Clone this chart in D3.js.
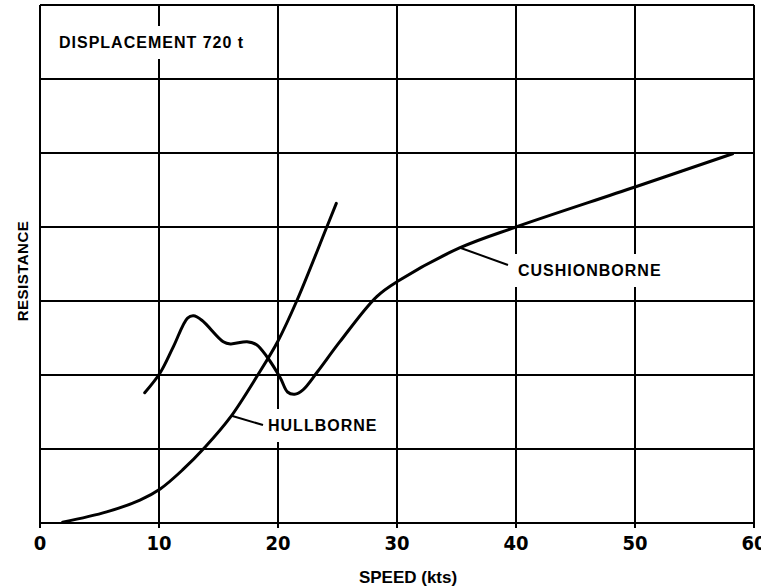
<!DOCTYPE html>
<html><head><meta charset="utf-8">
<script src="https://cdn.jsdelivr.net/npm/d3@7"></script>
<style>body{margin:0;background:#fff}svg{display:block}</style>
</head><body>
<script>
const xTicks = [0,10,20,30,40,50,60];
const yGrid = [0,1,2,3,4,5,6,7];
const hullSpeed = [1.9,5.6,8.4,10.1,12.0,13.9,16.0,18.3,20.0,21.6,24.1,24.9];
const hullRes   = [0.01,0.15,0.31,0.46,0.72,1.03,1.43,2.0,2.46,3.01,4.0,4.32];
const cushSpeed = [8.8,10.1,11.2,12.4,12.9,13.6,15.4,16.0,17.4,18.2,19.1,20.2,20.8,21.4,22.1,23.3,25.2,28.3,30.2,35.3,40,50,58.2];
const cushRes   = [1.76,2.03,2.38,2.77,2.80,2.74,2.45,2.42,2.45,2.41,2.24,1.96,1.77,1.74,1.80,2.04,2.45,3.06,3.28,3.72,4.0,4.54,4.99];

const W=761,H=588, m={top:5,right:7,bottom:65,left:40};
const svg=d3.select("body").append("svg").attr("width",W).attr("height",H);
const x=d3.scaleLinear().domain([0,60]).range([m.left,W-m.right]);
const y=d3.scaleLinear().domain([0,7]).range([H-m.bottom,m.top]);
const g=svg.append("g");
const FONT="'Liberation Sans',Arial,sans-serif";

// grid
g.selectAll(".v").data(xTicks).enter().append("line")
 .attr("x1",d=>x(d)).attr("x2",d=>x(d)).attr("y1",y(7)).attr("y2",y(0)+5)
 .attr("stroke","#000").attr("stroke-width",2);
g.selectAll(".h").data(yGrid).enter().append("line")
 .attr("x1",x(0)).attr("x2",x(60)).attr("y1",d=>y(d)).attr("y2",d=>y(d))
 .attr("stroke","#000").attr("stroke-width",2);

// tick labels
svg.selectAll(".tl").data(xTicks).enter().append("text")
 .attr("x",d=>x(d)).attr("y",y(0)+27).attr("text-anchor","middle")
 .attr("font-family","'Liberation Sans Narrow','DejaVu Sans Condensed',sans-serif")
 .attr("font-weight","bold")
 .attr("font-size",20).attr("fill","#000").text(d=>d);

function label(txt,xx,yy){
  const t=svg.append("text").attr("x",xx).attr("y",yy)
   .attr("font-family",FONT).attr("font-weight","bold").attr("letter-spacing",1)
   .attr("font-size",16).attr("fill","#000").text(txt);
  const b=t.node().getBBox();
  svg.insert("rect",()=>t.node()).attr("x",b.x-4).attr("y",b.y-8).attr("width",b.width+6).attr("height",b.height+16).attr("fill","#fff");
  return t;
}
label("DISPLACEMENT 720 t",59,48);

const line=d3.line().x(d=>x(d[0])).y(d=>y(d[1])).curve(d3.curveCatmullRom.alpha(0.5));
svg.append("path").datum(hullSpeed.map((s,i)=>[s,hullRes[i]])).attr("d",line)
 .attr("fill","none").attr("stroke","#000").attr("stroke-width",3).attr("stroke-linecap","round");
svg.append("path").datum(cushSpeed.map((s,i)=>[s,cushRes[i]])).attr("d",line)
 .attr("fill","none").attr("stroke","#000").attr("stroke-width",3).attr("stroke-linecap","round");

label("HULLBORNE",268,431);
label("CUSHIONBORNE",518,276);
svg.append("line").attr("x1",x(16.1)).attr("y1",y(1.45)).attr("x2",263).attr("y2",425).attr("stroke","#000").attr("stroke-width",2);
svg.append("line").attr("x1",x(35.3)).attr("y1",y(3.72)).attr("x2",508).attr("y2",265).attr("stroke","#000").attr("stroke-width",2);

svg.append("text").attr("x",408).attr("y",583).attr("text-anchor","middle")
 .attr("font-family",FONT).attr("font-weight","bold")
 .attr("font-size",17).text("SPEED (kts)");
svg.append("text").attr("transform","translate(28,271) rotate(-90)").attr("text-anchor","middle")
 .attr("font-family",FONT).attr("font-weight","bold").attr("letter-spacing",0.5)
 .attr("font-size",15).text("RESISTANCE");
</script>
</body></html>
